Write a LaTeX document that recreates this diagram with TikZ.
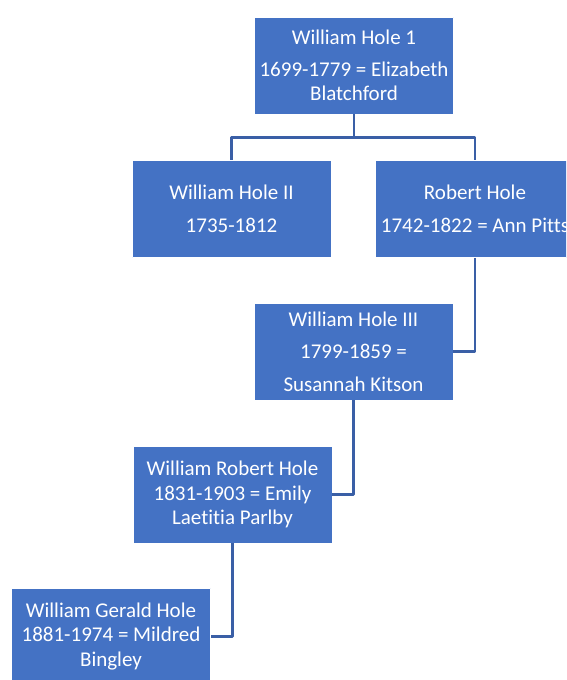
\documentclass[tikz,border=0pt]{standalone}
\usepackage{fontspec}
\setmainfont{Carlito}[Ligatures=NoCommon]
\usetikzlibrary{positioning}
\definecolor{boxblue}{HTML}{4472C4}
\definecolor{linkblue}{HTML}{3A5FA6}

\begin{document}
\begin{tikzpicture}[x=1pt, y=-1pt, line join=round,
  person/.style={rectangle, fill=boxblue, draw=white, line width=0.8pt, text=white,
    minimum width=199pt, minimum height=97pt, inner sep=0pt, align=center,
    font=\fontsize{21}{24.5}\selectfont},
  link/.style={draw=linkblue, line width=2.5pt}]
\useasboundingbox (0,0) rectangle (566,680);
\clip (0,0) rectangle (566,680);
\node[person] (hole1) at (354,65.5) {William Hole 1\\[7pt]1699-1779 = Elizabeth\\Blatchford};
\node[person] (hole2) at (231.5,209) {William Hole II\\[8pt]1735-1812};
\node[person] (robert) at (475,209) {Robert Hole\\[8pt]1742-1822 = Ann Pitts};
\node[person] (hole3) at (353.5,351.5) {William Hole III\\[8pt]1799-1859 =\\[8pt]Susannah Kitson};
\node[person] (wrhole) at (232.5,494.5) {William Robert Hole\\1831-1903 = Emily\\Laetitia Parlby};
\node[person] (gerald) at (111,636.5) {William Gerald Hole\\1881-1974 = Mildred\\Bingley};
\draw[link] (hole1.south) -- ++(0,23) -| (hole2.north);
\draw[link] (hole1.south) -- ++(0,23) -| (robert.north);
\draw[link] (robert.south) |- (hole3.east);
\draw[link] (hole3.south) |- (wrhole.east);
\draw[link] (wrhole.south) |- (gerald.east);
\end{tikzpicture}
\end{document}
